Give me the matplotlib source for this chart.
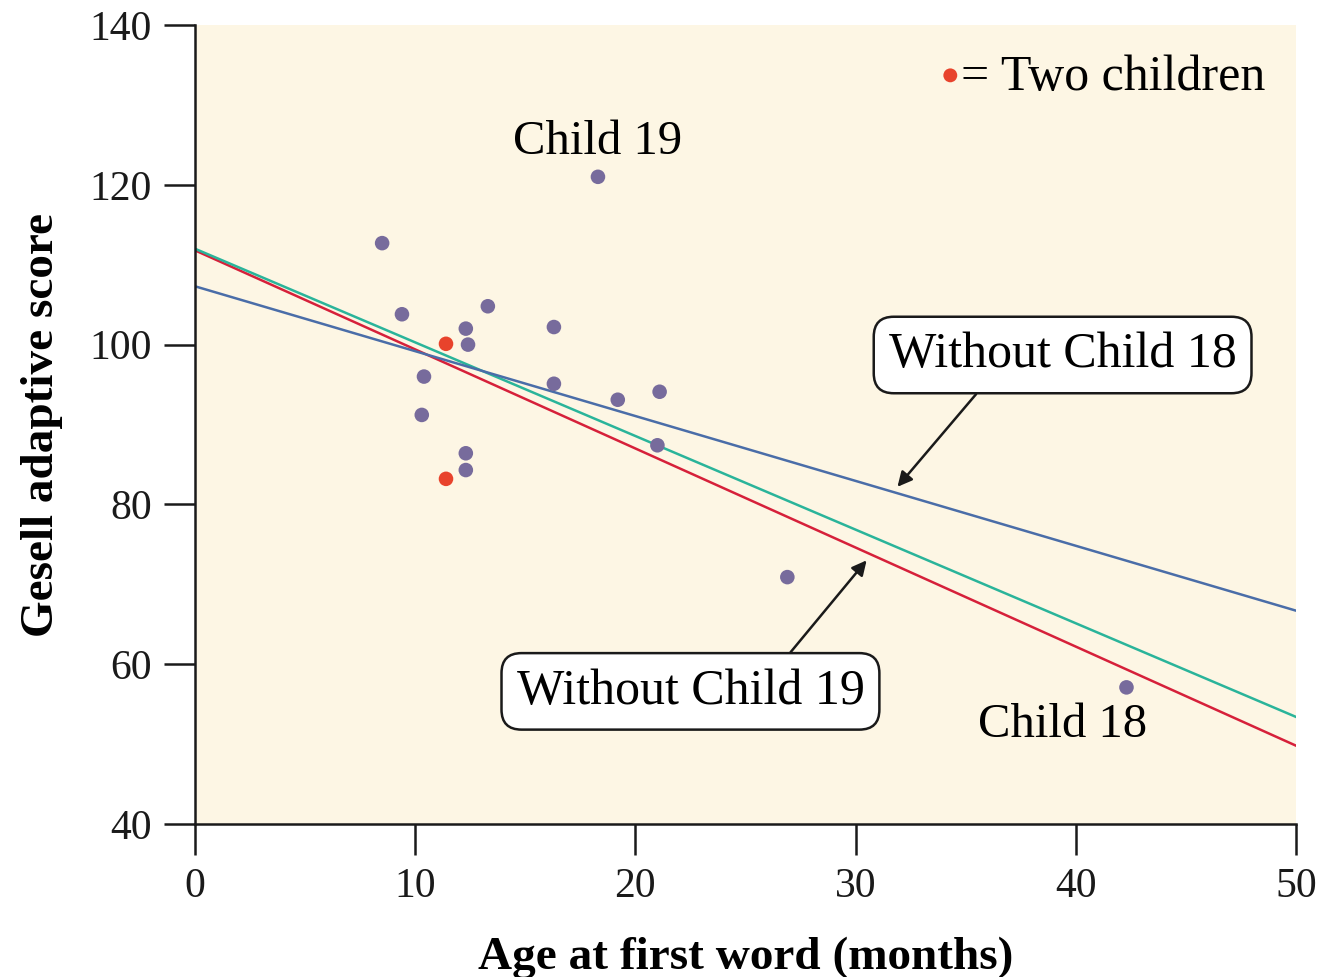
import matplotlib
matplotlib.use("Agg")
import matplotlib.pyplot as plt
import numpy as np

plt.rcParams['font.family'] = ['Liberation Serif', 'DejaVu Serif']

# Data
age_single = [8.5, 9.4, 10.4, 10.3, 12.3, 12.4, 12.3, 12.3, 13.3, 16.3, 16.3, 18.3, 19.2, 21.1, 21.0, 26.9, 42.3]
score_single = [112.7, 103.8, 96.0, 91.2, 102.0, 100.0, 86.4, 84.3, 104.8, 102.2, 95.1, 121.0, 93.1, 94.1, 87.4, 70.9, 57.1]
age_double = [11.4, 11.4]
score_double = [100.1, 83.2]

# Regression lines: (value at x=0, value at x=50)
line_names = ["All children", "Without Child 19", "Without Child 18"]
line_start = [111.8, 112.0, 107.3]
line_end = [49.8, 53.4, 66.7]
line_colors = ["#D6203A", "#2AB49A", "#4A6DA8"]

fig = plt.figure(figsize=(13.19, 9.77), dpi=100)
ax = fig.add_axes([0.1478, 0.1566, 0.8348, 0.8178])
ax.set_facecolor("#FDF6E4")

xs = np.array([0, 50])
for s, e, c in zip(line_start, line_end, line_colors):
    ax.plot(xs, [s, e], color=c, lw=1.8, zorder=2)

ax.scatter(age_single, score_single, s=110, color="#776B9C", zorder=3, edgecolors="none")
ax.scatter(age_double, score_double, s=110, color="#E8432C", zorder=3, edgecolors="none")

ax.set_xlim(0, 50)
ax.set_ylim(40, 140)
ax.set_xticks([0, 10, 20, 30, 40, 50])
ax.set_yticks([40, 60, 80, 100, 120, 140])
for sp in ["top", "right"]:
    ax.spines[sp].set_visible(False)
for sp in ["left", "bottom"]:
    ax.spines[sp].set_linewidth(1.8)
    ax.spines[sp].set_color("#1a1a1a")
ax.tick_params(direction="out", length=22, width=1.8, labelsize=30, pad=9, colors="#1a1a1a")

ax.set_xlabel("Age at first word (months)", fontsize=34, fontweight="bold", labelpad=22)
ax.set_ylabel("Gesell adaptive score", fontsize=34, fontweight="bold", labelpad=19)

ax.text(18.3, 125.3, "Child 19", fontsize=35, ha="center", va="center")
ax.text(39.4, 52.4, "Child 18", fontsize=35, ha="center", va="center")

# legend-ish note
ax.scatter([34.3], [133.7], s=100, color="#E8432C", zorder=3, edgecolors="none")
ax.text(34.8, 133.4, "= Two children", fontsize=36, ha="left", va="center")

bbox = dict(boxstyle="round,pad=0.3,rounding_size=0.4", fc="white", ec="#1a1a1a", lw=1.8)
ax.annotate("Without Child 18", xy=(31.9, 82.2), xytext=(39.4, 98.7),
            fontsize=36, ha="center", va="center", bbox=bbox,
            arrowprops=dict(arrowstyle="-|>", color="#1a1a1a", lw=1.8, mutation_scale=22,
                            shrinkA=0, shrinkB=0, relpos=(0.29, 0.0)))
ax.annotate("Without Child 19", xy=(30.5, 73.0), xytext=(22.5, 56.6),
            fontsize=36, ha="center", va="center", bbox=bbox,
            arrowprops=dict(arrowstyle="-|>", color="#1a1a1a", lw=1.8, mutation_scale=22,
                            shrinkA=0, shrinkB=0, relpos=(0.75, 1.0)))

fig.savefig("out.png", dpi=100, facecolor="white")
